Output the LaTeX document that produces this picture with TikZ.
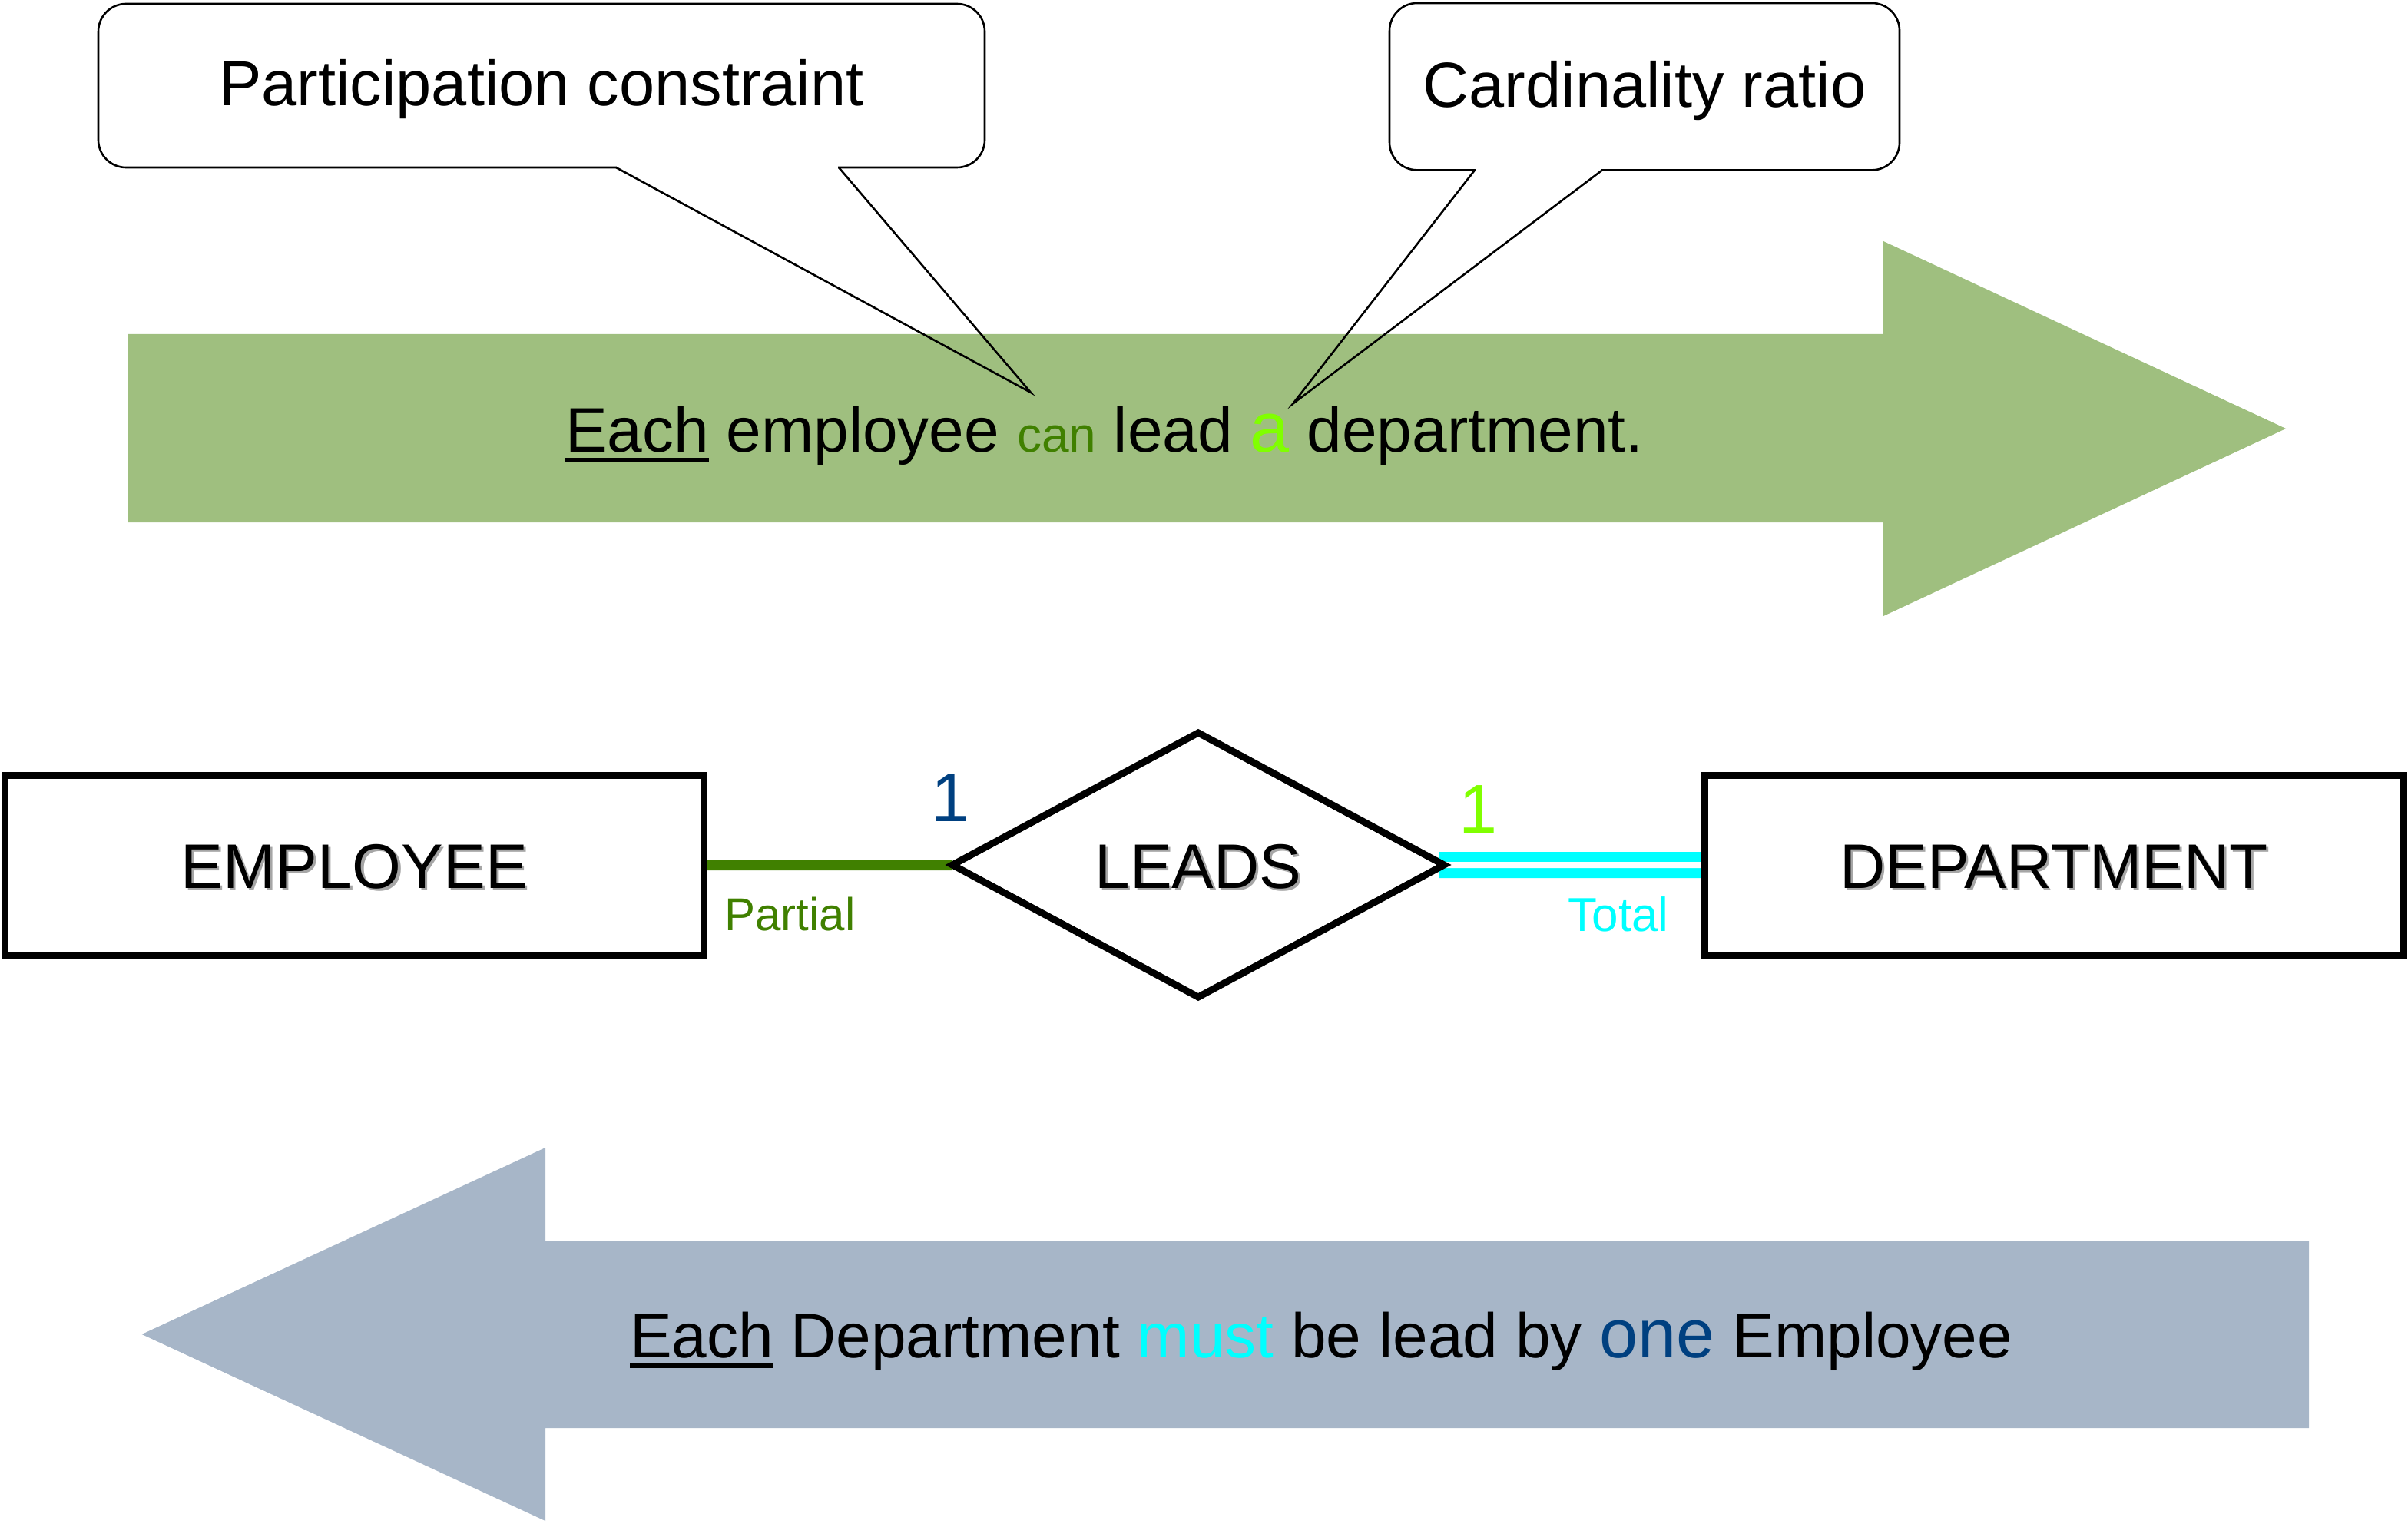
\documentclass[tikz,border=0pt]{standalone}
\usepackage{fontspec}
\setmainfont{Liberation Sans}
\usetikzlibrary{shapes.geometric}
\definecolor{arrowgreen}{HTML}{9FBF7F}
\definecolor{arrowblue}{HTML}{A7B6C8}
\definecolor{partgreen}{HTML}{408000}
\definecolor{darkblue}{HTML}{004080}
\definecolor{limegreen}{HTML}{80FF00}
\definecolor{aqua}{HTML}{00FFFF}
\newcommand\fs[1]{\fontsize{#1}{#1}\selectfont}
\newcommand\myul[1]{\setbox0\hbox{#1}\rlap{\rule[-7.2pt]{\wd0}{3.4pt}}\box0\relax}
\newcommand\shadowed[1]{\rlap{\hspace{1.6pt}\raisebox{-1.6pt}{\textcolor{black!35}{#1}}}#1}
\pgfdeclarelayer{bg}
\pgfsetlayers{bg,main}
\begin{document}
\begin{tikzpicture}[x=1pt,y=-1pt,
  calloutbox/.style={draw, line width=1.3pt, fill=white, rounded corners=18pt,
    inner sep=0pt, outer sep=0pt, font=\fs{41.5}, text height=30pt, text depth=3.5pt},
  pointerline/.style={line width=1.3pt, line join=miter},
  entity/.style={draw, line width=4.7pt, rectangle, inner sep=0pt, outer sep=0pt,
    minimum width=455pt, minimum height=117pt, font=\fs{41}, text height=30pt, text depth=0pt},
  relation/.style={draw, line width=4.5pt, diamond, aspect=1.86, inner sep=0pt, outer sep=0pt,
    minimum width=320pt, minimum height=172pt, font=\fs{41}, text height=30pt, text depth=0pt},
  sentence/.style={anchor=base west, inner sep=0pt, outer sep=0pt, font=\fs{41}},
  cardlabel/.style={anchor=base, inner sep=0pt, font=\fs{45}},
  partline/.style={draw=partgreen, line width=7pt},
  totalline/.style={draw=aqua, line width=6.5pt, double=white, double distance=4pt}
]
\useasboundingbox (0,0) rectangle (1567.5,992);

% green arrow (upper)
\fill[arrowgreen] (83,217.5) -- (1226,217.5) -- (1226,157) -- (1488,279)
  -- (1226,401) -- (1226,340) -- (83,340) -- cycle;
\node[sentence] (s1) at (368,294) {\myul{Each} employee {\color{partgreen}\fs{32}can} lead {\color{limegreen}\fs{46}a} department.};

% blue-grey arrow (lower)
\fill[arrowblue] (1503,808) -- (355,808) -- (355,747) -- (92.3,868.5)
  -- (355,990) -- (355,929.5) -- (1503,929.5) -- cycle;
\node[sentence] (s2) at (410,883.5) {\myul{Each} Department {\color{aqua}must} be lead by {\color{darkblue}\fs{45}one} Employee};

% callouts
\node[calloutbox, minimum width=577pt, minimum height=106.5pt] (pc) at (352.5,55.75) {Participation constraint};
\coordinate (pctip) at (671,255.5);
\fill[white] ([xshift=49.2pt,yshift=-1.6pt]pc.south) rectangle ([xshift=192.8pt,yshift=1.6pt]pc.south);
\draw[pointerline] ([xshift=48.5pt]pc.south) -- (pctip) -- ([xshift=193.5pt]pc.south);

\node[calloutbox, minimum width=332pt, minimum height=108.7pt] (cr) at (1070.5,56.35) {Cardinality ratio};
\coordinate (crtip) at (841.6,262.8);
\fill[white] ([xshift=-109.8pt,yshift=-1.6pt]cr.south) rectangle ([xshift=-28.2pt,yshift=1.6pt]cr.south);
\draw[pointerline] ([xshift=-110.5pt]cr.south) -- (crtip) -- ([xshift=-27.5pt]cr.south);

% ER diagram
\node[entity] (emp) at (230.6,563.1) {\shadowed{EMPLOYEE}};
\node[entity] (dept) at (1336.9,563.1) {\shadowed{DEPARTMENT}};
\node[relation] (leads) at (780,563) {\shadowed{LEADS}};

\begin{pgfonlayer}{bg}
\draw[partline] (emp.east) -- (leads.west);
\draw[totalline, shorten <=-3pt] (leads.east) -- (dept.west);
\end{pgfonlayer}

\node[cardlabel, text=darkblue] (c1) at (619,534.5) {1};
\node[cardlabel, text=limegreen] (c2) at (962,542) {1};
\node[anchor=base west, inner sep=0pt, text=partgreen, font=\fs{30}] (lp) at (471.5,605.8) {Partial};
\node[anchor=base east, inner sep=0pt, text=aqua, font=\fs{31}] (lt) at (1086.5,606) {Total};
\end{tikzpicture}
\end{document}
